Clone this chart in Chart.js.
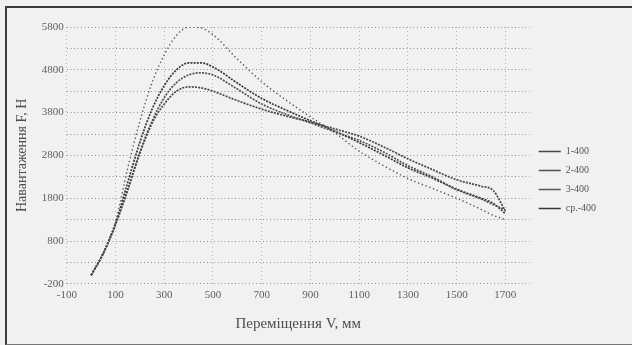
<!DOCTYPE html>
<html>
<head>
<meta charset="utf-8">
<script src="https://cdn.jsdelivr.net/npm/chart.js@4.4.0/dist/chart.umd.min.js"></script>
<style>
  html, body { margin: 0; padding: 0; background: #f1f1ef; }
  #wrap { position: relative; width: 632px; height: 345px; overflow: hidden; }
  #frame {
    position: absolute; left: 5px; top: 6px; width: 640px; height: 336px;
    border-left: 2px solid #3c3c3c; border-top: 2px solid #3c3c3c; border-bottom: 1px solid #777;
    pointer-events: none;
  }
</style>
</head>
<body>
<div id="wrap">
  <canvas id="chart" width="632" height="345"></canvas>
  <div id="frame"></div>
</div>
<script>
// Displacement V, mm (shared x values)
const xValues = [0, 50, 100, 150, 200, 250, 300, 350, 400, 450, 500, 600, 700, 800,
                 900, 1000, 1100, 1200, 1300, 1400, 1500, 1600, 1650, 1700];

// Load F, N for each specimen
const series1 = [0, 520, 1180, 2000, 2850, 3550, 4000, 4300, 4400, 4380, 4300, 4080, 3880, 3720,
                 3580, 3420, 3250, 3000, 2720, 2470, 2230, 2080, 1980, 1500];
const series2 = [0, 520, 1200, 2000, 2880, 3600, 4150, 4500, 4680, 4730, 4680, 4350, 4000, 3760,
                 3560, 3350, 3150, 2880, 2560, 2300, 2000, 1780, 1650, 1530];
const series3 = [0, 500, 1250, 2500, 3600, 4500, 5150, 5600, 5800, 5780, 5620, 5050, 4520, 4090,
                 3700, 3330, 2900, 2560, 2260, 2030, 1800, 1540, 1400, 1300];
const seriesAvg = [0, 513, 1210, 2170, 3110, 3880, 4430, 4800, 4960, 4963, 4867, 4490, 4130, 3860,
                   3610, 3370, 3100, 2810, 2510, 2270, 2010, 1800, 1680, 1440];

const seriesNames = ['1-400', '2-400', '3-400', 'ср.-400'];

// Axis ticks
const xTicks = [-100, 100, 300, 500, 700, 900, 1100, 1300, 1500, 1700];
const yLabelled = [-200, 800, 1800, 2800, 3800, 4800, 5800];

const toPoints = ys => xValues.map((x, i) => ({ x: x, y: ys[i] }));

const serif = 'Liberation Serif';

const ctx = document.getElementById('chart').getContext('2d');

new Chart(ctx, {
  type: 'line',
  data: {
    datasets: [
      { label: seriesNames[0], data: toPoints(series1), borderColor: '#474747', borderWidth: 1.7, borderDash: [2, 1.2] },
      { label: seriesNames[1], data: toPoints(series2), borderColor: '#525252', borderWidth: 1.7, borderDash: [2, 1.2] },
      { label: seriesNames[2], data: toPoints(series3), borderColor: '#5a5a5a', borderWidth: 1.4, borderDash: [1.4, 2.6] },
      { label: seriesNames[3], data: toPoints(seriesAvg), borderColor: '#383838', borderWidth: 1.7, borderDash: [2, 1.2] }
    ]
  },
  options: {
    responsive: false,
    animation: false,
    layout: { padding: { left: 14, right: 26, top: 27, bottom: 12 } },
    elements: {
      point: { radius: 0 },
      line: { cubicInterpolationMode: 'monotone', fill: false }
    },
    scales: {
      x: {
        type: 'linear',
        min: -100,
        max: 1800,
        afterBuildTicks: axis => { axis.ticks = xTicks.map(v => ({ value: v })); },
        grid: { color: '#b5b5b5', lineWidth: 1, drawTicks: false },
        border: { display: false, dash: [1, 3] },
        ticks: {
          color: '#5e5e5e',
          font: { family: serif, size: 11 },
          padding: 5,
          maxRotation: 0,
          callback: v => String(v)
        },
        title: {
          display: true,
          text: 'Переміщення V, мм',
          color: '#4e4e4e',
          font: { family: serif, size: 15 },
          padding: { top: 8, bottom: 0 }
        }
      },
      y: {
        min: -200,
        max: 5800,
        ticks: {
          stepSize: 500,
          color: '#5e5e5e',
          font: { family: serif, size: 11 },
          padding: 3,
          callback: v => yLabelled.includes(v) ? String(v) : ''
        },
        grid: { color: '#8e8e8e', lineWidth: 1, drawTicks: false },
        border: { display: false, dash: [1, 2.5] },
        title: {
          display: true,
          text: 'Навантаження F, Н',
          color: '#4e4e4e',
          font: { family: serif, size: 14 },
          padding: { top: 0, bottom: 8 }
        }
      }
    },
    plugins: {
      legend: {
        position: 'right',
        align: 'center',
        labels: {
          usePointStyle: true,
          pointStyle: 'line',
          pointStyleWidth: 22,
          color: '#555',
          font: { family: serif, size: 10 },
          padding: 9
        }
      },
      tooltip: { enabled: false }
    }
  }
});
</script>
</body>
</html>
